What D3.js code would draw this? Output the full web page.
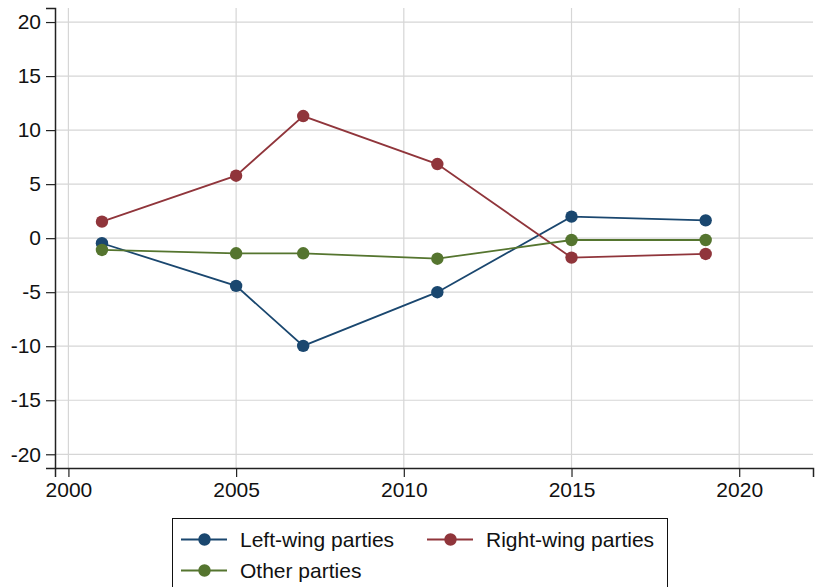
<!DOCTYPE html>
<html>
<head>
<meta charset="utf-8">
<script src="https://cdn.jsdelivr.net/npm/d3@7"></script>
<style>
  body { margin: 0; background: #fff; }
  svg { display: block; font-family: "Liberation Sans", Arial, Helvetica, sans-serif; }
</style>
</head>
<body>
<svg width="815" height="587"></svg>
<script>
var years = [2001, 2005, 2007, 2011, 2015, 2019];
var leftWing = [-0.47, -4.42, -9.97, -5.0, 1.99, 1.65];
var rightWing = [1.53, 5.78, 11.3, 6.86, -1.8, -1.46];
var otherParties = [-1.09, -1.4, -1.4, -1.9, -0.17, -0.17];
var seriesNames = ["Left-wing parties", "Right-wing parties", "Other parties"];
var seriesColors = ["#1a476f", "#90353b", "#55752f"];
var xTicks = [2000, 2005, 2010, 2015, 2020];
var yTicks = [-20, -15, -10, -5, 0, 5, 10, 15, 20];

var svg = d3.select("svg"),
    margin = {top: 8, right: 2, bottom: 119, left: 55},
    width = +svg.attr("width") - margin.left - margin.right,
    height = +svg.attr("height") - margin.top - margin.bottom,
    g = svg.append("g").attr("transform", "translate(" + margin.left + "," + margin.top + ")");

var x = d3.scaleLinear().domain([1999.6, 2022.2]).range([0, width]);
var y = d3.scaleLinear().domain([-21.27, 21.3]).range([height, 0]);

var series = [leftWing, rightWing, otherParties].map(function(vals, i) {
  return {name: seriesNames[i], color: seriesColors[i],
    values: years.map(function(yr, j) { return {year: yr, value: vals[j]}; })};
});

// grid
g.append("g").selectAll("line").data(yTicks).enter().append("line")
    .attr("x1", 0).attr("x2", width)
    .attr("y1", function(d) { return y(d); }).attr("y2", function(d) { return y(d); })
    .attr("stroke", "#d6d6d6").attr("stroke-width", 1.2);
g.append("g").selectAll("line").data(xTicks).enter().append("line")
    .attr("y1", 0).attr("y2", height)
    .attr("x1", function(d) { return x(d); }).attr("x2", function(d) { return x(d); })
    .attr("stroke", "#d6d6d6").attr("stroke-width", 1.2);

// axes
var xAxis = g.append("g")
    .attr("transform", "translate(0," + height + ")")
    .call(d3.axisBottom(x).tickValues(xTicks).tickFormat(d3.format("d")).tickSizeOuter(0).tickSize(9).tickPadding(5));
var yAxis = g.append("g")
    .call(d3.axisLeft(y).tickValues(yTicks).tickSizeOuter(0).tickSize(9).tickPadding(5));
[xAxis, yAxis].forEach(function(a) {
  a.select(".domain").attr("stroke", "#222").attr("stroke-width", 1.5);
  a.selectAll(".tick line").attr("stroke", "#222").attr("stroke-width", 1.2);
  a.selectAll("text").attr("fill", "#111").style("font-size", "21px")
    .style("font-family", "'Liberation Sans', Arial, sans-serif");
});
yAxis.selectAll("text").text(function(d) { return d < 0 ? "-" + Math.abs(d) : d; });

// lines
var line = d3.line().x(function(d) { return x(d.year); }).y(function(d) { return y(d.value); });
var serie = g.selectAll(".serie").data(series).enter().append("g").attr("class", "serie");
serie.append("path")
    .attr("d", function(d) { return line(d.values); })
    .attr("fill", "none").attr("stroke", function(d) { return d.color; }).attr("stroke-width", 1.8);
serie.selectAll("circle").data(function(d) { return d.values.map(function(v) { return {v: v, c: d.color}; }); })
  .enter().append("circle")
    .attr("cx", function(d) { return x(d.v.year); })
    .attr("cy", function(d) { return y(d.v.value); })
    .attr("r", 6.2)
    .attr("fill", function(d) { return d.c; });

// legend
var legend = svg.append("g");
legend.append("rect")
    .attr("x", 172.5).attr("y", 518.5).attr("width", 495).attr("height", 80)
    .attr("fill", "#fff").attr("stroke", "#111").attr("stroke-width", 1);
var legPos = [{x: 181, y: 539.5}, {x: 427, y: 539.5}, {x: 181, y: 570.5}];
var item = legend.selectAll(".item").data(series).enter().append("g")
    .attr("transform", function(d, i) { return "translate(" + legPos[i].x + "," + legPos[i].y + ")"; });
item.append("line").attr("x1", 0).attr("x2", 46)
    .attr("stroke", function(d) { return d.color; }).attr("stroke-width", 1.8);
item.append("circle").attr("cx", 23.5).attr("r", 6.2).attr("fill", function(d) { return d.color; });
item.append("text").attr("x", 59).attr("dy", "0.35em")
    .style("font-size", "21px").attr("fill", "#111")
    .text(function(d) { return d.name; });
</script>
</body>
</html>
